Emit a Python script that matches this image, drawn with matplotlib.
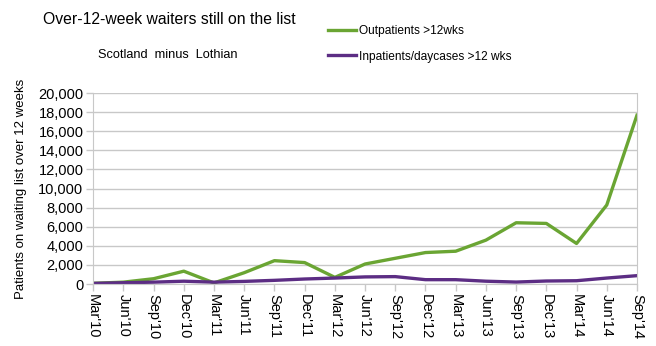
import matplotlib
matplotlib.use("Agg")
import matplotlib.pyplot as plt

plt.rcParams['font.family'] = ['Liberation Sans', 'DejaVu Sans']

# quarterly points
quarters = ["Mar'10", "Jun'10", "Sep'10", "Dec'10", "Mar'11", "Jun'11", "Sep'11", "Dec'11",
            "Mar'12", "Jun'12", "Sep'12", "Dec'12", "Mar'13", "Jun'13", "Sep'13", "Dec'13",
            "Mar'14", "Jun'14", "Sep'14"]
outpatients = [80, 200, 560, 1350, 120, 1190, 2450, 2250, 700, 2100, 2700, 3300,
               3440, 4600, 6420, 6350, 4250, 8280, 17680]
inpatients = [70, 140, 200, 300, 200, 280, 390, 530, 630, 750, 780, 460,
              460, 300, 210, 320, 350, 630, 880]

green = '#6aa533'
purple = '#5c2d84'
grey = '#c8c8c8'

fig = plt.figure(figsize=(6.56, 3.46), dpi=100)
ax = fig.add_axes([0.142, 0.179, 0.829, 0.552])

x = range(len(quarters))
ax.plot(x, outpatients, color=green, lw=2.4, label='Outpatients >12wks')
ax.plot(x, inpatients, color=purple, lw=2.4, label='Inpatients/daycases >12 wks')

ax.set_xlim(0, len(quarters) - 1)
ax.set_ylim(0, 20000)
ax.set_yticks(range(0, 20001, 2000))
ax.set_yticklabels([f"{v:,}" for v in range(0, 20001, 2000)], fontsize=10.5)
ax.set_xticks(list(x))
ax.set_xticklabels(quarters, rotation=270, fontsize=10.5)
ax.tick_params(axis='both', color=grey, length=5, width=1, pad=2)
ax.grid(axis='y', color=grey, lw=1)
ax.set_axisbelow(True)
for side in ['left', 'bottom', 'right']:
    ax.spines[side].set_color(grey)
ax.spines['top'].set_visible(False)

ax.set_ylabel('Patients on waiting list over 12 weeks', fontsize=9.5, labelpad=8)

fig.text(0.066, 0.945, 'Over-12-week waiters still on the list', fontsize=11.3, va='center')
fig.text(0.255, 0.841, 'Scotland  minus  Lothian', fontsize=9.2, va='center', ha='center')

h, l = ax.get_legend_handles_labels()
fig.legend(h, l, loc='upper left', bbox_to_anchor=(0.497, 0.935), frameon=False,
           fontsize=8.6, handlelength=2.3, handletextpad=0.3, labelspacing=1.15,
           borderaxespad=0, borderpad=0.2)

fig.savefig('out.png', dpi=100)
